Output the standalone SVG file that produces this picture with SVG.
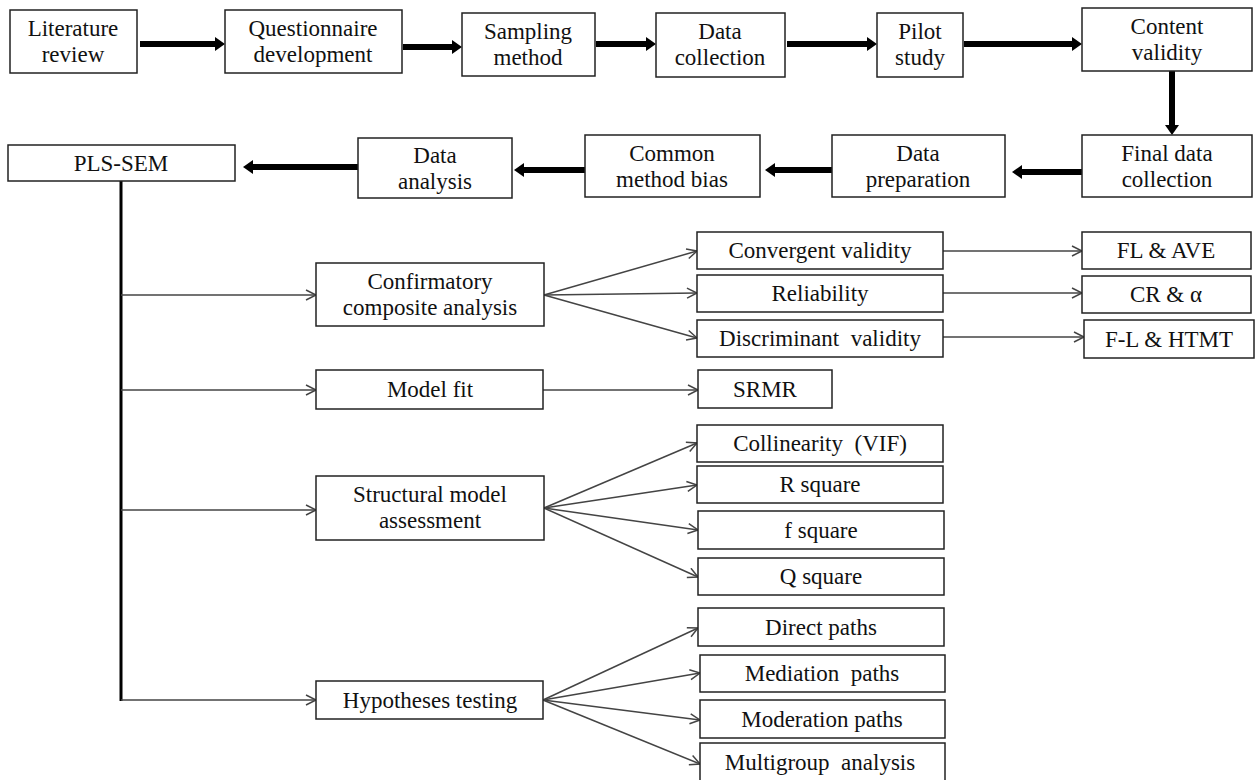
<svg xmlns="http://www.w3.org/2000/svg" width="1258" height="780" viewBox="0 0 1258 780">
<defs>
<style>
.box{fill:#fff;stroke:#222;stroke-width:1.5}
.t{font-family:"Liberation Serif","Times New Roman",serif;font-size:23px;fill:#111;text-anchor:middle}
.thick{stroke:#000;stroke-width:6;fill:none}
.thin{stroke:#444;stroke-width:1.5;fill:none}
.trunk{stroke:#000;stroke-width:3;fill:none}
</style>
<marker id="ah" markerUnits="userSpaceOnUse" markerWidth="12" markerHeight="14" refX="2" refY="7" orient="auto">
<path d="M0,0 L10,7 L0,14 z" fill="#000"/>
</marker>
<marker id="ao" markerUnits="userSpaceOnUse" markerWidth="14" markerHeight="14" refX="11" refY="6" orient="auto">
<path d="M1,1 L11,6 L1,11" fill="none" stroke="#444" stroke-width="1.5"/>
</marker>
</defs>
<rect width="1258" height="780" fill="#fff"/>

<g id="connectors">
<line class="thick" x1="140" y1="44" x2="217" y2="44" marker-end="url(#ah)"/>
<line class="thick" x1="403" y1="47" x2="454" y2="47" marker-end="url(#ah)"/>
<line class="thick" x1="596" y1="44" x2="648" y2="44" marker-end="url(#ah)"/>
<line class="thick" x1="787" y1="44" x2="869" y2="44" marker-end="url(#ah)"/>
<line class="thick" x1="964" y1="44" x2="1074" y2="44" marker-end="url(#ah)"/>
<line class="thick" x1="1172" y1="71" x2="1172" y2="127" marker-end="url(#ah)"/>
<line class="thick" x1="1082" y1="172" x2="1020" y2="172" marker-end="url(#ah)"/>
<line class="thick" x1="832" y1="170" x2="773" y2="170" marker-end="url(#ah)"/>
<line class="thick" x1="585" y1="170" x2="522" y2="170" marker-end="url(#ah)"/>
<line class="thick" x1="358" y1="167" x2="251" y2="167" marker-end="url(#ah)"/>

<line class="trunk" x1="121" y1="181" x2="121" y2="701"/>
<line class="thin" x1="121" y1="295" x2="316" y2="295" marker-end="url(#ao)"/>
<line class="thin" x1="121" y1="390" x2="316" y2="390" marker-end="url(#ao)"/>
<line class="thin" x1="121" y1="510" x2="316" y2="510" marker-end="url(#ao)"/>
<line class="thin" x1="121" y1="700" x2="316" y2="700" marker-end="url(#ao)"/>

<line class="thin" x1="544" y1="295" x2="697" y2="251" marker-end="url(#ao)"/>
<line class="thin" x1="544" y1="295" x2="697" y2="293" marker-end="url(#ao)"/>
<line class="thin" x1="544" y1="295" x2="697" y2="338" marker-end="url(#ao)"/>
<line class="thin" x1="943" y1="251" x2="1082" y2="251" marker-end="url(#ao)"/>
<line class="thin" x1="943" y1="293" x2="1082" y2="293" marker-end="url(#ao)"/>
<line class="thin" x1="943" y1="337" x2="1084" y2="337" marker-end="url(#ao)"/>
<line class="thin" x1="543" y1="390" x2="698" y2="390" marker-end="url(#ao)"/>

<line class="thin" x1="544" y1="508" x2="697" y2="443" marker-end="url(#ao)"/>
<line class="thin" x1="544" y1="508" x2="697" y2="485" marker-end="url(#ao)"/>
<line class="thin" x1="544" y1="508" x2="698" y2="530" marker-end="url(#ao)"/>
<line class="thin" x1="544" y1="508" x2="698" y2="577" marker-end="url(#ao)"/>

<line class="thin" x1="543" y1="700" x2="698" y2="628" marker-end="url(#ao)"/>
<line class="thin" x1="543" y1="700" x2="700" y2="673" marker-end="url(#ao)"/>
<line class="thin" x1="543" y1="700" x2="700" y2="720" marker-end="url(#ao)"/>
<line class="thin" x1="543" y1="700" x2="700" y2="764" marker-end="url(#ao)"/>
</g>

<g id="lit"><rect class="box" x="10" y="10" width="127" height="63"/><text class="t" x="73" y="36">Literature</text><text class="t" x="73" y="62">review</text></g>
<g id="quest"><rect class="box" x="225" y="10" width="177" height="63"/><text class="t" x="313" y="36">Questionnaire</text><text class="t" x="313" y="62">development</text></g>
<g id="samp"><rect class="box" x="462" y="13" width="133" height="63"/><text class="t" x="528" y="39">Sampling</text><text class="t" x="528" y="65">method</text></g>
<g id="datacol"><rect class="box" x="656" y="13" width="129" height="64"/><text class="t" x="720" y="39">Data</text><text class="t" x="720" y="65">collection</text></g>
<g id="pilot"><rect class="box" x="877" y="13" width="86" height="64"/><text class="t" x="920" y="39">Pilot</text><text class="t" x="920" y="65">study</text></g>
<g id="content"><rect class="box" x="1082" y="8" width="170" height="63"/><text class="t" x="1167" y="34">Content</text><text class="t" x="1167" y="60">validity</text></g>
<g id="final"><rect class="box" x="1082" y="135" width="170" height="62"/><text class="t" x="1167" y="161">Final data</text><text class="t" x="1167" y="187">collection</text></g>
<g id="prep"><rect class="box" x="832" y="135" width="173" height="62"/><text class="t" x="918" y="161">Data</text><text class="t" x="918" y="187">preparation</text></g>
<g id="cmb"><rect class="box" x="585" y="135" width="175" height="62"/><text class="t" x="672" y="161">Common</text><text class="t" x="672" y="187">method bias</text></g>
<g id="analysis"><rect class="box" x="358" y="138" width="154" height="60"/><text class="t" x="435" y="163">Data</text><text class="t" x="435" y="189">analysis</text></g>
<g id="pls"><rect class="box" x="8" y="145" width="227" height="36"/><text class="t" x="121" y="171">PLS-SEM</text></g>

<g id="cca"><rect class="box" x="316" y="263" width="228" height="63"/><text class="t" x="430" y="289">Confirmatory</text><text class="t" x="430" y="315">composite analysis</text></g>
<g id="fit"><rect class="box" x="316" y="370" width="227" height="39"/><text class="t" x="430" y="397">Model fit</text></g>
<g id="sma"><rect class="box" x="316" y="476" width="228" height="64"/><text class="t" x="430" y="502">Structural model</text><text class="t" x="430" y="528">assessment</text></g>
<g id="hyp"><rect class="box" x="316" y="681" width="227" height="38"/><text class="t" x="430" y="708">Hypotheses testing</text></g>

<g id="conv"><rect class="box" x="697" y="232" width="246" height="37"/><text class="t" x="820" y="258">Convergent validity</text></g>
<g id="rel"><rect class="box" x="697" y="275" width="246" height="37"/><text class="t" x="820" y="301">Reliability</text></g>
<g id="disc"><rect class="box" x="697" y="320" width="246" height="37"/><text class="t" x="820" y="346" xml:space="preserve">Discriminant  validity</text></g>
<g id="srmr"><rect class="box" x="698" y="370" width="134" height="38"/><text class="t" x="765" y="397">SRMR</text></g>
<g id="vif"><rect class="box" x="697" y="425" width="246" height="37"/><text class="t" x="820" y="451" xml:space="preserve">Collinearity  (VIF)</text></g>
<g id="rsq"><rect class="box" x="697" y="466" width="246" height="37"/><text class="t" x="820" y="492">R square</text></g>
<g id="fsq"><rect class="box" x="698" y="511" width="246" height="38"/><text class="t" x="821" y="538">f square</text></g>
<g id="qsq"><rect class="box" x="698" y="558" width="246" height="37"/><text class="t" x="821" y="584">Q square</text></g>
<g id="direct"><rect class="box" x="698" y="608" width="246" height="38"/><text class="t" x="821" y="635">Direct paths</text></g>
<g id="med"><rect class="box" x="700" y="655" width="245" height="37"/><text class="t" x="822" y="681" xml:space="preserve">Mediation  paths</text></g>
<g id="mod"><rect class="box" x="700" y="700" width="245" height="38"/><text class="t" x="822" y="727">Moderation paths</text></g>
<g id="mga"><rect class="box" x="700" y="743" width="245" height="40"/><text class="t" x="820" y="770" xml:space="preserve">Multigroup  analysis</text></g>

<g id="flave"><rect class="box" x="1082" y="232" width="169" height="37"/><text class="t" x="1166" y="258">FL &amp; AVE</text></g>
<g id="cr"><rect class="box" x="1082" y="276" width="169" height="37"/><text class="t" x="1166" y="302">CR &amp; α</text></g>
<g id="htmt"><rect class="box" x="1084" y="320" width="170" height="38"/><text class="t" x="1169" y="347">F-L &amp; HTMT</text></g>
</svg>
